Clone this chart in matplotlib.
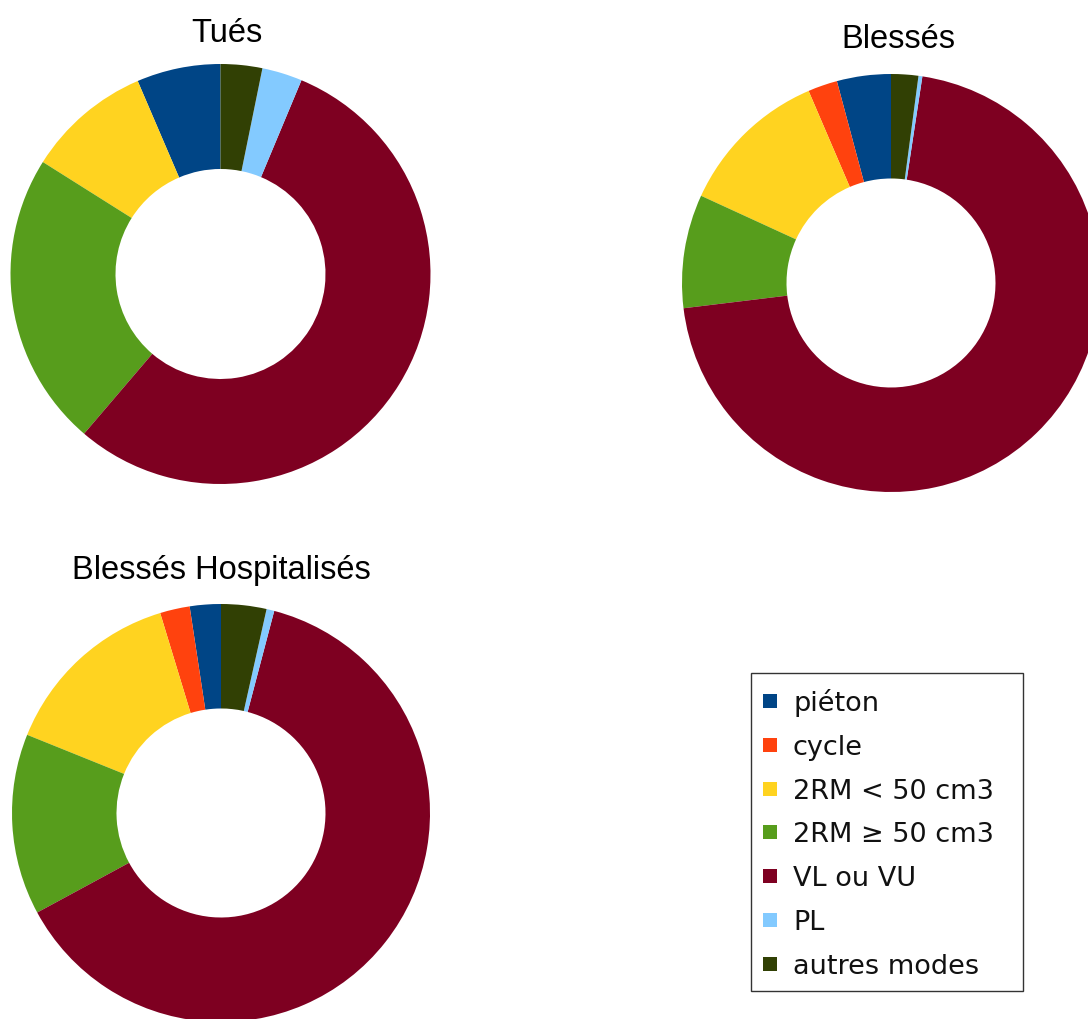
import matplotlib
matplotlib.use("Agg")
import matplotlib.pyplot as plt
from matplotlib.patches import Rectangle

# ---- data ----
categories = ["piéton", "cycle", "2RM < 50 cm3", "2RM ≥ 50 cm3", "VL ou VU", "PL", "autres modes"]
colors = ["#004586", "#ff420e", "#ffd320", "#579d1c", "#7e0021", "#83caff", "#314004"]
tues = [6.45, 0.0, 9.6, 22.7, 54.95, 3.1, 3.2]
blesses = [4.17, 2.28, 11.7, 8.78, 70.67, 0.3, 2.1]
hospitalises = [2.4, 2.3, 14.2, 14.0, 63.0, 0.6, 3.5]
titles = ["Tués", "Blessés", "Blessés Hospitalisés"]

W, H = 1088, 1019
fig = plt.figure(figsize=(W / 100, H / 100), dpi=100)
fig.patch.set_facecolor("white")


def box(cx, cy, R):
    return [(cx - R) / W, (H - cy - R) / H, 2 * R / W, 2 * R / H]


charts = [
    (tues, (220.5, 274, 210), (227, 42)),
    (blesses, (891, 283, 209), (898.5, 48)),
    (hospitalises, (221, 813, 209), (221, 579)),
]

for (vals, (cx, cy, R), (tx, ty)), title in zip(charts, titles):
    ax = fig.add_axes(box(cx, cy, R))
    ax.pie(vals, colors=colors, startangle=90, counterclock=True, radius=1.0,
           wedgeprops=dict(width=0.5, linewidth=0.3, edgecolor="none"))
    ax.set_xlim(-1, 1)
    ax.set_ylim(-1, 1)
    ax.set_aspect("equal")
    ax.axis("off")
    fig.text(tx / W, 1 - ty / H, title, ha="center", va="baseline",
             fontsize=23.5, family="Liberation Sans", color="black")

# ---- legend (drawn manually) ----
lx0, ly0, lx1, ly1 = 751, 673, 1023, 991
fig.patches.append(Rectangle((lx0 / W, 1 - ly1 / H), (lx1 - lx0) / W, (ly1 - ly0) / H,
                             transform=fig.transFigure, facecolor="white",
                             edgecolor="#333333", linewidth=1.0, zorder=1))
first_base = 711
step = 43.8
sq = 14
for i, (lab, col) in enumerate(zip(categories, colors)):
    base = first_base + i * step
    mc = base - 10
    fig.patches.append(Rectangle(((770 - sq / 2) / W, 1 - (mc + sq / 2) / H), sq / W, sq / H,
                                 transform=fig.transFigure, facecolor=col,
                                 edgecolor="none", zorder=2))
    fig.text(793 / W, 1 - base / H, lab, ha="left", va="baseline",
             fontsize=19.5, family="DejaVu Sans", color="#111111", zorder=3)

fig.savefig("out.png", dpi=100, facecolor="white")
